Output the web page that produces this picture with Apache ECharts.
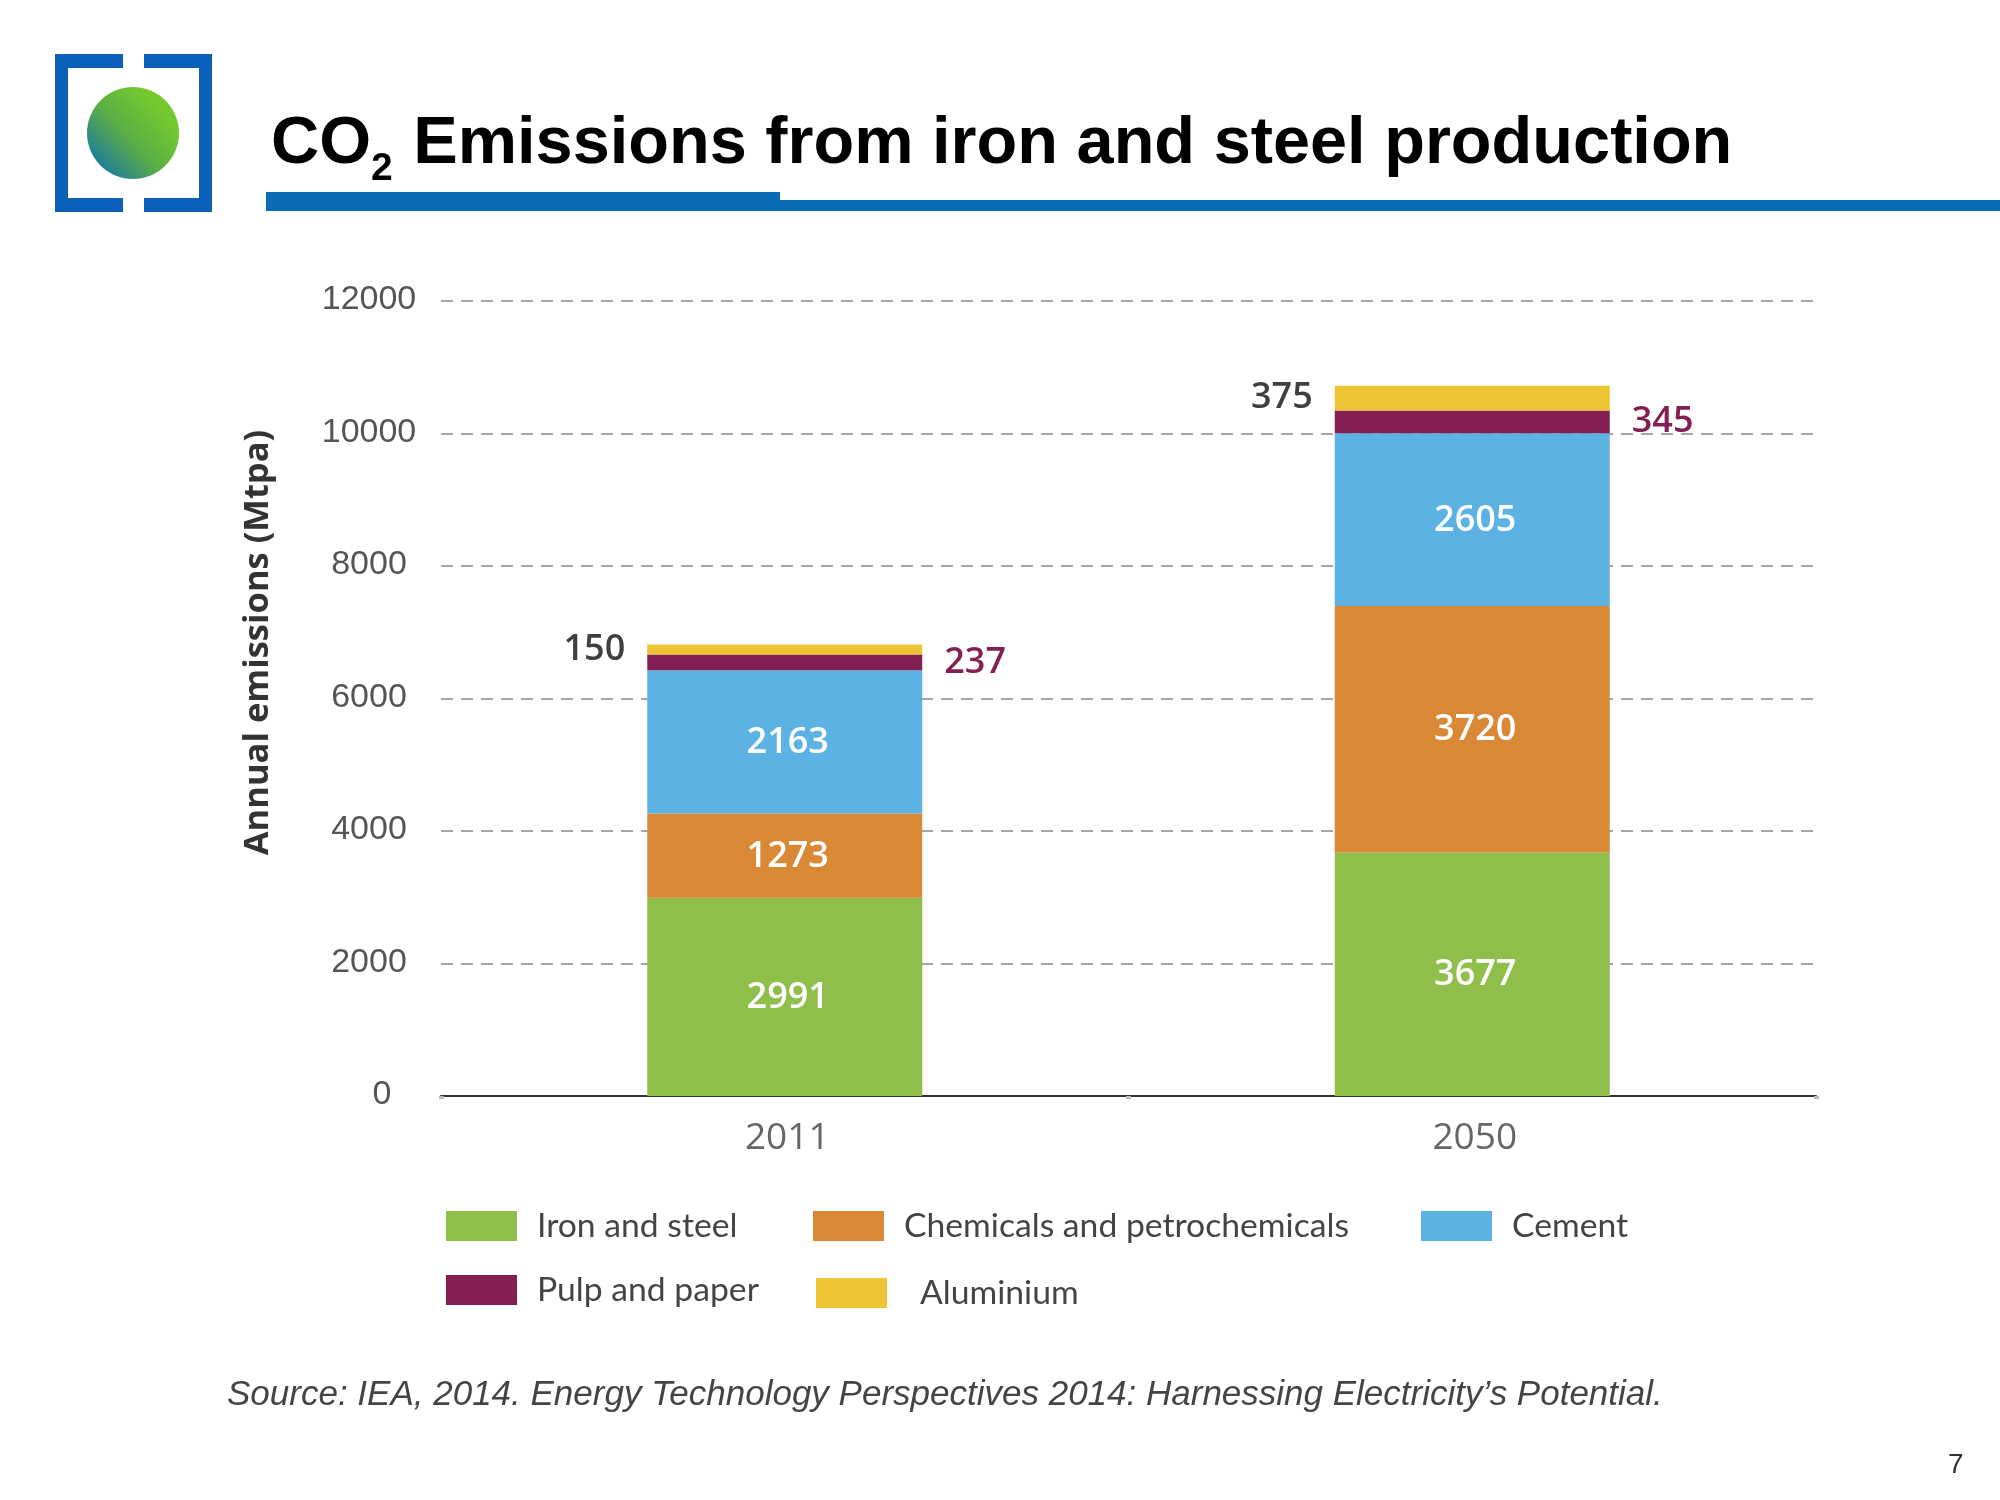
<!DOCTYPE html>
<html>
<head>
<meta charset="utf-8">
<title>CO2 Emissions from iron and steel production</title>
<script src="https://cdn.jsdelivr.net/npm/echarts@6/dist/echarts.min.js"></script>
<style>
  html, body { margin: 0; padding: 0; background: #fff; }
  #chart { width: 2000px; height: 1500px; }
</style>
</head>
<body>
<div id="chart"></div>
<script>
const years = ['2011', '2050'];
const ironAndSteel = [2991, 3677];
const chemicals = [1273, 3720];
const cement = [2163, 2605];
const pulpAndPaper = [237, 345];
const aluminium = [150, 375];
const yTicks = [0, 2000, 4000, 6000, 8000, 10000, 12000];

const textFont = 'Open Sans';
const blue = '#0a6cb4';

function insideLabel() {
  return {
    show: true,
    position: 'inside',
    offset: [3, 1],
    color: '#fff',
    fontFamily: textFont,
    fontWeight: 600,
    fontSize: 36
  };
}

function outsideLabel(position, color) {
  return {
    show: true,
    position: position,
    distance: 22,
    color: color,
    fontFamily: textFont,
    fontWeight: 600,
    fontSize: 36
  };
}

function barSeries(name, values, color, label) {
  return {
    name: name,
    type: 'bar',
    stack: 'total',
    barWidth: '40%',
    data: values,
    itemStyle: { color: color },
    label: label
  };
}

function legendItem(name, left, top, textGap) {
  return {
    data: [name],
    left: left,
    top: top,
    padding: 0,
    icon: 'rect',
    itemWidth: 71,
    itemHeight: 30,
    textStyle: {
      color: '#444',
      fontFamily: 'Lato',
      fontSize: 33.7,
      padding: [0, 0, 0, textGap]
    }
  };
}

function bracketRect(x, y, width, height) {
  return { type: 'rect', shape: { x: x, y: y, width: width, height: height }, style: { fill: '#0a60b8' } };
}

const chart = echarts.init(document.getElementById('chart'));

chart.setOption({
  animation: false,
  backgroundColor: '#fff',
  title: [{
    left: 271,
    top: 101,
    padding: 0,
    text: '{big|CO}{sub|2}{big| Emissions from iron and steel production}',
    textStyle: {
      rich: {
        big: { fontFamily: 'Liberation Sans', fontWeight: 'bold', fontSize: 66.7, lineHeight: 88, color: '#000' },
        sub: { fontFamily: 'Liberation Sans', fontWeight: 'bold', fontSize: 39, color: '#000', verticalAlign: 'bottom', padding: [0, 2, 0, 0] }
      }
    }
  }, {
    left: 227,
    top: 1378,
    padding: 0,
    text: 'Source: IEA, 2014. Energy Technology Perspectives 2014: Harnessing Electricity\u2019s Potential.',
    textStyle: { fontFamily: 'Liberation Sans', fontStyle: 'italic', fontWeight: 'normal', fontSize: 35, color: '#444' }
  }, {
    left: 1948,
    top: 1451,
    padding: 0,
    text: '7',
    textStyle: { fontFamily: 'Liberation Sans', fontWeight: 'normal', fontSize: 28, color: '#333' }
  }],
  grid: { left: 441, right: 184, top: 301, bottom: 404 },
  xAxis: {
    type: 'category',
    data: years,
    axisLine: { lineStyle: { color: '#333', width: 2 } },
    axisTick: { show: true, length: 3, lineStyle: { color: '#bbb', width: 5 } },
    axisLabel: { margin: 24, color: '#666', fontFamily: textFont, fontSize: 37, padding: [0, 0, 0, 5] }
  },
  yAxis: {
    type: 'value',
    min: yTicks[0],
    max: yTicks[yTicks.length - 1],
    interval: yTicks[1] - yTicks[0],
    name: 'Annual emissions (Mtpa)',
    nameLocation: 'middle',
    nameGap: 165,
    nameTextStyle: {
      color: '#333',
      fontFamily: textFont,
      fontWeight: 'bold',
      fontSize: 34.5,
      padding: [0, 0, 0, 112]
    },
    axisLine: { show: false },
    axisTick: { show: false },
    axisLabel: {
      margin: 72,
      align: 'center',
      color: '#555',
      fontFamily: 'Liberation Sans',
      fontSize: 34,
      padding: [0, 0, 2, 0],
      // the zero sits further right than the centred labels above it
      formatter: value => value === 0 ? '{zero|0}' : String(value),
      rich: {
        zero: { color: '#555', fontFamily: 'Liberation Sans', fontSize: 34, padding: [0, 0, 0, 26] }
      }
    },
    splitLine: { lineStyle: { color: '#888', width: 1.5, type: [12, 8] } }
  },
  legend: [
    legendItem('Iron and steel', 446, 1209, 15),
    legendItem('Chemicals and petrochemicals', 813, 1209, 15),
    legendItem('Cement', 1421, 1209, 15),
    legendItem('Pulp and paper', 446, 1273, 15),
    legendItem('Aluminium', 816, 1276, 28)
  ],
  series: [
    barSeries('Iron and steel', ironAndSteel, '#8fbe4b', insideLabel()),
    barSeries('Chemicals and petrochemicals', chemicals, '#d98835', insideLabel()),
    barSeries('Cement', cement, '#5cb2e2', insideLabel()),
    barSeries('Pulp and paper', pulpAndPaper, '#841f52', outsideLabel('right', '#841f52')),
    barSeries('Aluminium', aluminium, '#ecc434', outsideLabel('left', '#3f3f3f'))
  ],
  graphic: [
    // logo brackets
    bracketRect(55, 54, 13, 158),
    bracketRect(55, 54, 68, 14),
    bracketRect(55, 198, 68, 14),
    bracketRect(199, 54, 13, 158),
    bracketRect(144, 54, 68, 14),
    bracketRect(144, 198, 68, 14),
    {
      type: 'circle',
      shape: { cx: 133, cy: 133, r: 46 },
      style: {
        fill: new echarts.graphic.LinearGradient(0.05, 0.95, 0.8, 0.25, [
          { offset: 0, color: '#0f6fb0' },
          { offset: 0.55, color: '#5aae45' },
          { offset: 1, color: '#74c92e' }
        ])
      }
    },
    // title rule
    { type: 'rect', shape: { x: 266, y: 192, width: 514, height: 19 }, style: { fill: blue } },
    { type: 'rect', shape: { x: 780, y: 200, width: 1220, height: 11 }, style: { fill: blue } }
  ]
});
</script>
</body>
</html>
